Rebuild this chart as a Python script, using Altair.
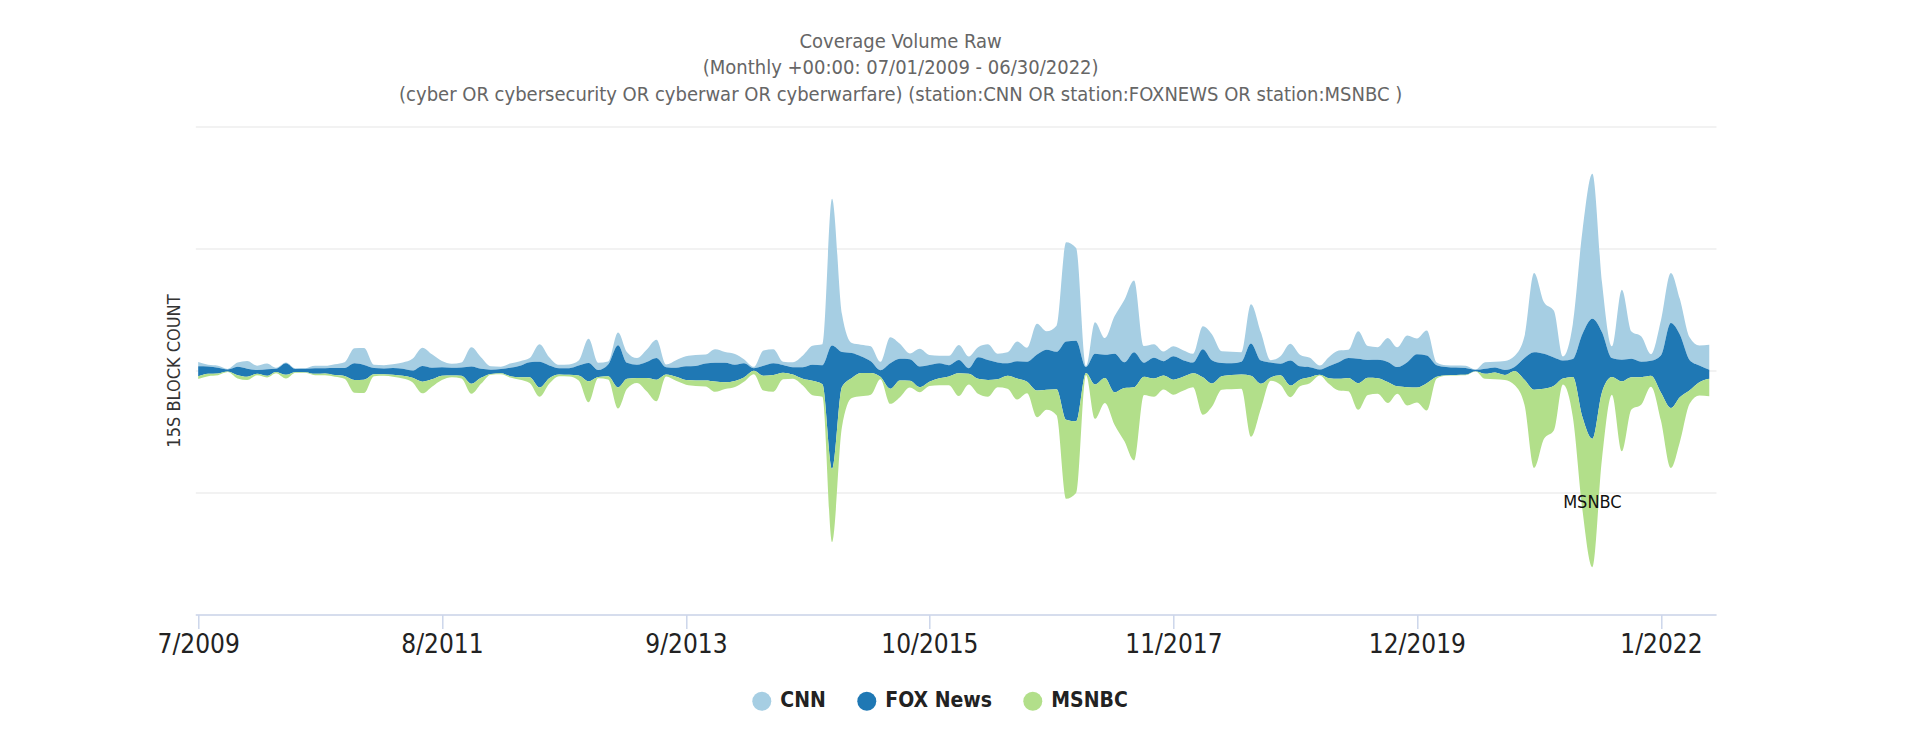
import altair as alt
import pandas as pd

# ---------------- data (in 15s-block units) ----------------
months = pd.date_range("2009-07-01", periods=156, freq="MS").strftime("%Y-%m-%d").tolist()

cnn = [4.3, 1.7, 2, 0.7, 4.3, 7.7, 4.3, 5.7, 1, 0.7,
       0.7, 0.7, 2.3, 2.3, 3.7, 5.7, 15, 17, 3.3, 3.3,
       3.7, 6.3, 11.7, 18.3, 13.3, 6.3, 4, 5, 19.3, 11.7,
       3.3, 2.3, 4.3, 4.7, 4.3, 17.7, 8.3, 3.3, 3.7, 5,
       24.3, 7.3, 3, 12.7, 10.7, 6.7, 12.3, 18.3, 2.7, 7.7,
       10, 11, 9, 13.7, 10.7, 10.7, 4, 1.3, 15.3, 14,
       3.3, 5, 11.7, 19, 21, 146.7, 38, 10, 11.7, 15,
       8.3, 26, 15, 5.7, 17.7, 10, 7.7, 9.3, 15, 11.7,
       10, 15.7, 8.7, 11, 19.7, 14, 30.7, 18.3, 26, 99.3,
       92.7, 1, 31.7, 16.7, 37.3, 62.7, 71.7, 16.7, 13.7, 9.7,
       10, 10, 8.7, 23, 26, 11.7, 11.7, 9.7, 39.3, 28.3,
       2.3, 7.3, 16.7, 11.7, 9.3, 4, 9, 11.7, 8.3, 27.7,
       14, 12.7, 24, 19.7, 26.7, 15.7, 25, 2.7, 1.7, 2,
       2.3, 0.3, 6.7, 5.7, 9, 11, 21.7, 79.3, 51.7, 46.7,
       4, 35, 103, 145, 50, 11.7, 70, 27.3, 25.3, 6.7,
       35, 50, 35.7, 22.7, 20, 25]

fox = [10, 7.3, 5.7, 2, 8.3, 8, 3.7, 6.7, 3.3, 11.7,
       3, 3.3, 5.7, 5.3, 7, 8, 16.7, 14.7, 6.3, 5.7,
       6.7, 7, 7.3, 15.7, 11.7, 8.3, 7.7, 8.3, 17.3, 9,
       4.3, 4.3, 8.3, 11.3, 15, 25.7, 12.7, 6.3, 6.7, 10,
       18.3, 7, 11.7, 42.3, 16, 13.3, 16, 21.7, 7.3, 9,
       13.7, 14.5, 17, 18.7, 19.7, 16.3, 14.3, 2.7, 10, 11.7,
       7.7, 7.3, 11.7, 16, 19, 123.3, 35, 25, 16.7, 11.7,
       6.7, 25.7, 21.7, 21.7, 20.7, 16.7, 15, 11.3, 13.3, 5.7,
       21.7, 20, 16.7, 12.3, 17.3, 20, 36, 40, 37.3, 78.3,
       80.7, 6, 30.7, 23.3, 38.7, 25.7, 35, 14, 20.7, 14.3,
       23.3, 16.7, 10.7, 28, 23.3, 13.3, 11.7, 12.7, 32.3, 23.3,
       15, 11.7, 25, 13.3, 10, 5.3, 12, 16.7, 20, 24.3,
       17.7, 18.3, 20, 19.3, 25, 33.3, 27.7, 11.7, 8.3, 7.3,
       6.7, 1.3, 5, 5, 5, 4, 21.7, 37.3, 35, 28.3,
       18, 18, 83, 120, 60, 19, 21.7, 18.3, 15.3, 15,
       37, 85, 62.7, 30, 16.7, 9]

msnbc = [2.7, 2.3, 1.7, 0.5, 3.3, 3.3, 1.7, 1.7, 1.3, 3.7,
         0.7, 0.7, 1.3, 1.7, 1.7, 2.7, 12.7, 13.3, 2, 1.7,
         2, 2.7, 4.3, 11.7, 7.3, 4.3, 1.7, 2.7, 10, 6,
         0.7, 1, 1.3, 2.7, 5.7, 9.3, 5.7, 1.7, 1.7, 5,
         21, 1.3, 3.3, 21, 10, 5, 13.3, 21.7, 2, 4,
         4.7, 5.5, 6, 10.3, 6.7, 6, 4.3, 3.3, 14.7, 16.7,
         6.7, 4.3, 6.7, 14.3, 12.7, 73.3, 40, 20, 23.3, 21.7,
         2.3, 15, 16.7, 6.7, 5, 4.3, 7, 8.7, 22.7, 10.7,
         15, 16.7, 8, 13, 21, 11.7, 26.7, 20, 26, 79,
         71.7, 2, 34.3, 25, 32.3, 53.3, 73.3, 18.3, 18.3, 14,
         15, 14, 14, 37.5, 23.3, 13.3, 14.3, 14.3, 61, 25,
         3.3, 9.3, 11.7, 6.7, 6, 0.7, 5.7, 11.7, 13.3, 26.7,
         17.3, 15.7, 21, 7.3, 18.3, 15, 27.3, 1.7, 0.5, 0.5,
         0.5, 0.3, 5, 6.7, 5, 14, 25, 78.3, 50, 44.3,
         6, 40, 93, 128.3, 66.7, 17.7, 70, 32.3, 27.3, 11,
         28, 60, 45, 13.3, 13.3, 17.7]

networks = ["CNN", "FOX News", "MSNBC"]
colors = ["#a6cee3", "#1f78b4", "#b2df8a"]
stack_rank = [2, 1, 0]          # MSNBC at the bottom, CNN on top

tick_months = ["2009-07-01", "2011-08-01", "2013-09-01", "2015-10-01",
               "2017-11-01", "2019-12-01", "2022-01-01"]

title_lines = ["Coverage Volume Raw",
               "(Monthly +00:00: 07/01/2009 - 06/30/2022)",
               "(cyber OR cybersecurity OR cyberwar OR cyberwarfare) (station:CNN OR station:FOXNEWS OR station:MSNBC )"]

# ---------------- build table ----------------
rows = []
for name, rank, vals in zip(networks, stack_rank, [cnn, fox, msnbc]):
    for d, v in zip(months, vals):
        rows.append({"date": d, "network": name, "count": v, "rank": rank})
df = pd.DataFrame(rows)

def ms(s):
    return int(pd.Timestamp(s, tz="UTC").value // 10**6)

totals = [a + b + c for a, b, c in zip(cnn, fox, msnbc)]
mid = max(totals) / 2.0        # centre line of a Vega "center" stack
step = 122
y_domain = [mid - 2 * step, mid + 2 * step]
y_ticks = [mid + k * step for k in range(-2, 3)]

FONT = "Liberation Sans Narrow, Arial Narrow, DejaVu Sans Condensed, Roboto Condensed, sans-serif"

x_scale = alt.Scale(type="utc", domain=[ms("2009-06-22"), ms("2022-06-22")])
y_scale = alt.Scale(domain=y_domain, nice=False, zero=False)

x_axis = alt.Axis(values=[ms(t) for t in tick_months],
                  labelExpr="(utcmonth(datum.value)+1) + '/' + utcyear(datum.value)",
                  grid=False, domainColor="#ccd6eb", tickColor="#ccd6eb",
                  domainWidth=1.5, tickWidth=1.5, tickSize=14,
                  labelFont=FONT, labelFontSize=26, labelColor="#222222",
                  labelPadding=3, labelFlush=False, labelOverlap=False, title=None)
y_axis = alt.Axis(values=y_ticks, labels=False, ticks=False, domain=False,
                  grid=True, gridColor="#e6e6e6", gridWidth=1.2,
                  title="15S BLOCK COUNT", titleFont=FONT, titleFontSize=18,
                  titleFontWeight="normal", titleColor="#333333", titlePadding=12)

area = alt.Chart(df).mark_area(interpolate="monotone").encode(
    x=alt.X("date:T", scale=x_scale, axis=x_axis),
    y=alt.Y("count:Q", stack="center", scale=y_scale, axis=y_axis),
    color=alt.Color("network:N", scale=alt.Scale(domain=networks, range=colors),
                    legend=alt.Legend(title=None, orient="none", legendX=556, legendY=564,
                                      direction="horizontal", symbolType="circle",
                                      symbolSize=360, symbolStrokeWidth=0,
                                      labelFont=FONT, labelFontSize=21, labelFontWeight="bold",
                                      labelColor="#222222", labelOffset=8, columnPadding=30,
                                      padding=0)),
    order=alt.Order("rank:Q", sort="ascending"),
)

label = alt.Chart(df).transform_joinaggregate(
    total="sum(count)", groupby=["date"]
).transform_joinaggregate(
    maxtotal="max(total)"
).transform_filter(
    alt.datum.network == "MSNBC"
).transform_joinaggregate(
    peak="max(count)"
).transform_filter(
    "datum.count == datum.peak"
).transform_calculate(
    ypos="(datum.maxtotal - datum.total) / 2 + datum.count / 2"
).mark_text(font=FONT, fontSize=18, color="#111111").encode(
    x=alt.X("date:T", scale=x_scale, axis=x_axis),
    y=alt.Y("ypos:Q", scale=y_scale, axis=y_axis),
    text=alt.Text("network:N"),
)

chart = alt.layer(area, label).properties(
    width=1520.7, height=488,
    padding={"left": 187.3, "top": 118.5, "right": 198, "bottom": 117},
    autosize=alt.AutoSizeParams(type="none"),
    title=alt.TitleParams(text=title_lines, anchor="middle", dx=-55, offset=22,
                          font=FONT, fontSize=20, fontWeight="normal",
                          color="#666666", lineHeight=26.5),
).configure_view(strokeWidth=0)

chart.save("out.html", embed_options={"renderer": "svg", "actions": False})
